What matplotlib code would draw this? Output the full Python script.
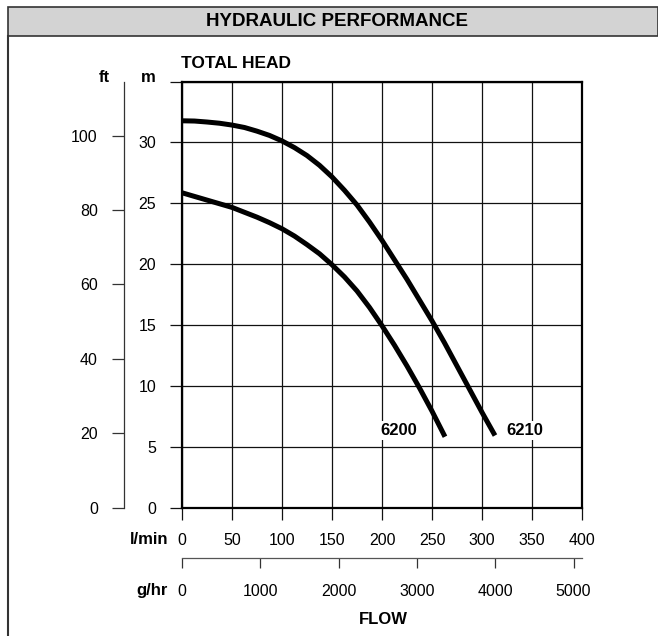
import numpy as np
import matplotlib
matplotlib.use("Agg")
import matplotlib.pyplot as plt
from matplotlib.patches import Rectangle
from matplotlib.lines import Line2D

plt.rcParams['font.family'] = ['Liberation Sans', 'DejaVu Sans']

# pump curves: flow in l/min, head in m
flow_6210 = [0, 12.5, 25, 37.5, 50, 62.5, 75, 87.5, 100, 112.5, 125, 137.5, 150,
             162.5, 175, 187.5, 200, 212.5, 225, 237.5, 250, 262.5, 275, 287.5, 300, 313]
head_6210 = [31.7, 31.68, 31.6, 31.5, 31.35, 31.15, 30.85, 30.5, 30.05, 29.5, 28.85, 28.05, 27.1,
             26.0, 24.8, 23.4, 21.9, 20.3, 18.7, 17.0, 15.3, 13.5, 11.6, 9.7, 7.8, 5.9]
flow_6200 = [0, 12.5, 25, 37.5, 50, 62.5, 75, 87.5, 100, 112.5, 125, 137.5, 150,
             162.5, 175, 187.5, 200, 212.5, 225, 237.5, 250, 263]
head_6200 = [25.8, 25.5, 25.2, 24.9, 24.6, 24.2, 23.8, 23.35, 22.85, 22.25, 21.55, 20.8, 19.9,
             18.9, 17.75, 16.4, 14.9, 13.3, 11.6, 9.8, 7.9, 5.8]

lmin_ticks = [0, 50, 100, 150, 200, 250, 300, 350, 400]
m_ticks = [0, 5, 10, 15, 20, 25, 30]
ft_ticks = [0, 20, 40, 60, 80, 100]
ghr_ticks = [0, 1000, 2000, 3000, 4000, 5000]

M_TOP = 34.88          # top of plot in metres
FT_PER_M = 1 / 0.3048
GHR_PER_LMIN = 12.77   # g/hr per l/min as drawn on the chart

W, H = 658, 636
fig = plt.figure(figsize=(W / 100, H / 100), dpi=100)

def fx(px):
    return px / W

def fy(py):
    return 1 - py / H

# frame and title band
fig.patches.append(Rectangle((fx(8), fy(36)), 1 - fx(8), fy(6.7) - fy(36),
                             transform=fig.transFigure, facecolor='#d3d3d3',
                             edgecolor='#333333', lw=1.2, zorder=0))
fig.lines.append(Line2D([fx(8), fx(8)], [0, fy(36)], transform=fig.transFigure,
                        color='#333333', lw=1.5))
fig.text(fx(337), fy(21.5), 'HYDRAULIC PERFORMANCE', ha='center', va='center',
         fontsize=13.5, fontweight='bold')

# main chart
left, right, top, bottom = 182, 582, 82, 507.5
ax = fig.add_axes([fx(left), fy(bottom), fx(right - left), fy(top) - fy(bottom)])
ax.plot(flow_6210, head_6210, color='black', lw=3.6, solid_capstyle='butt',
        solid_joinstyle='round', zorder=2)
ax.plot(flow_6200, head_6200, color='black', lw=3.6, solid_capstyle='butt',
        solid_joinstyle='round', zorder=2)
ax.set_xlim(0, 400)
ax.set_ylim(0, M_TOP)
ax.set_xticks(lmin_ticks)
ax.set_xticklabels([str(v) for v in lmin_ticks])
ax.set_yticks(m_ticks + [M_TOP])
ax.set_yticklabels([str(v) for v in m_ticks] + [''])
ax.grid(True, color='#111111', lw=0.9)
ax.tick_params(axis='x', direction='out', length=8.3, width=0.9, pad=10, labelsize=11.5, color='#111111')
ax.tick_params(axis='y', direction='out', length=8.6, width=0.9, pad=10, labelsize=11.5, color='#111111')
for s in ax.spines.values():
    s.set_linewidth(1.6)
    s.set_color('black')

box = dict(facecolor='white', edgecolor='none', pad=1.5)
ax.text(217, 6.35, '6200', ha='center', va='center', fontsize=12,
        fontweight='bold', bbox=box, zorder=3)
ax.text(343, 6.35, '6210', ha='center', va='center', fontsize=12,
        fontweight='bold', bbox=box, zorder=3)

# feet scale
ax_ft = fig.add_axes([fx(124), fy(bottom), 0.0001, fy(top) - fy(bottom)])
ax_ft.set_ylim(0, M_TOP * FT_PER_M)
ax_ft.set_yticks(ft_ticks)
ax_ft.set_xticks([])
for k in ['top', 'right', 'bottom']:
    ax_ft.spines[k].set_visible(False)
ax_ft.spines['left'].set_linewidth(0.9)
ax_ft.spines['left'].set_color('#333333')
ax_ft.tick_params(axis='y', direction='out', length=8.9, width=0.9, pad=10,
                  labelsize=11.5, color='#333333')
ax_ft.patch.set_visible(False)

# gallons per hour scale
ax_g = fig.add_axes([fx(left), fy(558.3), fx(right - left), 0.0001])
ax_g.set_xlim(0, 400 * GHR_PER_LMIN)
ax_g.set_xticks(ghr_ticks)
ax_g.set_yticks([])
for k in ['top', 'left', 'right']:
    ax_g.spines[k].set_visible(False)
ax_g.spines['bottom'].set_linewidth(0.9)
ax_g.spines['bottom'].set_color('#555555')
ax_g.tick_params(axis='x', direction='out', length=7.2, width=0.9, pad=11,
                 labelsize=11.5, color='#333333')
ax_g.patch.set_visible(False)

# axis captions
bold = dict(fontsize=12, fontweight='bold', va='center')
fig.text(fx(104), fy(77), 'ft', ha='center', **bold)
fig.text(fx(148), fy(77), 'm', ha='center', **bold)
fig.text(fx(181), fy(63), 'TOTAL HEAD', ha='left', fontsize=12.5,
         fontweight='bold', va='center')
fig.text(fx(168), fy(540), 'l/min', ha='right', **bold)
fig.text(fx(168), fy(590), 'g/hr', ha='right', **bold)
fig.text(fx(383), fy(620), 'FLOW', ha='center', **bold)

fig.savefig('out.png', dpi=100)
